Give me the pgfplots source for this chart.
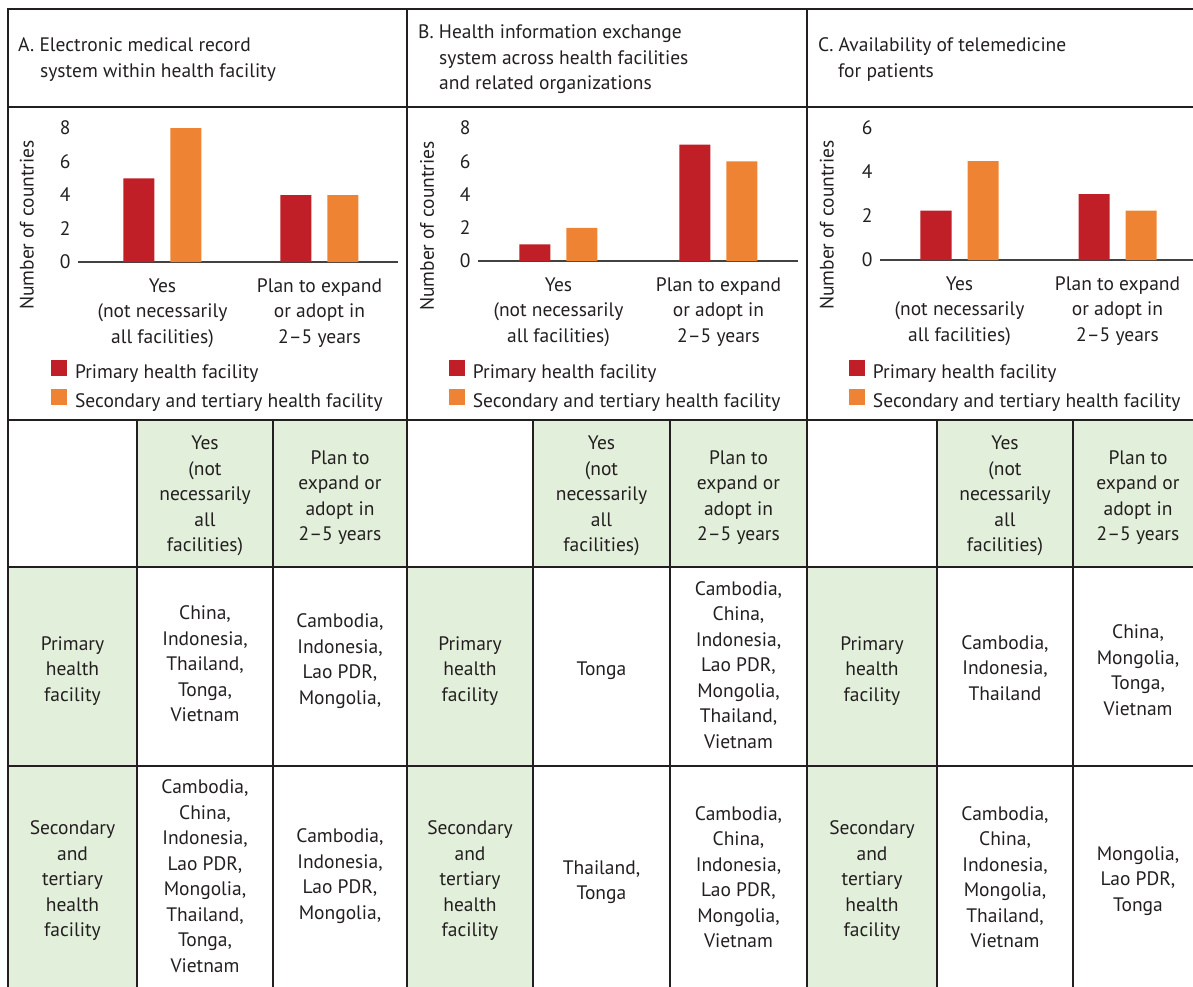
\documentclass[border=0pt]{standalone}
\usepackage{fontspec}
\setmainfont{PT Sans}
\usepackage{pgfplots}
\pgfplotsset{compat=1.18}
\definecolor{pred}{HTML}{C01F28}
\definecolor{porange}{HTML}{EE8433}
\definecolor{pgreen}{HTML}{E2EFDA}
\definecolor{ink}{HTML}{231F20}
\newcommand\fs{\fontsize{19.5}{25.5}\selectfont}
\pgfplotsset{
 panel/.style={
  scale only axis, width=320pt,
  ybar=16pt, bar width=31pt,
  ymin=0,
  axis x line=bottom, axis y line=left,
  x axis line style={-, draw=ink!85, line width=1.4pt},
  y axis line style={draw=none},
  major tick length=0pt, tick style={draw=none},
  xtick={0,1},
  xticklabels={{Yes\\(not necessarily\\all facilities)},{Plan to expand\\or adopt in\\2–5 years}},
  xticklabel style={align=center, font=\fs, text=ink, yshift=-13pt},
  yticklabel style={font=\fs, text=ink, xshift=-4pt},
  /pgf/number format/assume math mode=true,
  ylabel={Number of countries},
  ylabel style={font=\fs, text=ink, anchor=center},
  legend style={draw=none, fill=none, inner sep=0pt, outer sep=0pt, anchor=north west, column sep=8pt, row sep=5pt, font=\fs, text=ink, nodes={inner sep=0pt, text height=14pt, text depth=5pt}},
  legend cell align=left,
  legend image code/.code={\fill[##1] (0pt,-2pt) rectangle (16pt,14pt);},
 }
}
\begin{document}
\begin{tikzpicture}
\useasboundingbox (0pt,0pt) rectangle (1193pt,-987pt);
\begin{scope}[x=1pt,y=-1pt]
% green fills
\fill[pgreen] (137,420) rectangle (407,567);
\fill[pgreen] (533,420) rectangle (807,567);
\fill[pgreen] (937,420) rectangle (1200,567);
\fill[pgreen] (8,567) rectangle (137,995);
\fill[pgreen] (407,567) rectangle (533,995);
\fill[pgreen] (807,567) rectangle (937,995);
% titles
\begin{scope}[every node/.style={font=\fs, text=ink, inner sep=0pt, anchor=base west}]
\node at (18,52) {A. Electronic medical record};
\node at (40,77.5) {system within health facility};
\node at (418,39) {B. Health information exchange};
\node at (439,64.5) {system across health facilities};
\node at (439,90) {and related organizations};
\node at (818,52) {C. Availability of telemedicine};
\node at (838,77.5) {for patients};
\end{scope}
% table text
\begin{scope}[every node/.style={font=\fs, text=ink, inner sep=0pt, align=center, anchor=center}]
% headers
\node at (205,496) {Yes\\(not\\necessarily\\all\\facilities)};
\node at (340,497.5) {Plan to\\expand or\\adopt in\\2–5 years};
\node at (601.5,496) {Yes\\(not\\necessarily\\all\\facilities)};
\node at (738.5,497.5) {Plan to\\expand or\\adopt in\\2–5 years};
\node at (1005,496) {Yes\\(not\\necessarily\\all\\facilities)};
\node at (1138,497.5) {Plan to\\expand or\\adopt in\\2–5 years};
% row labels
\node at (72.5,671) {Primary\\health\\facility};
\node at (470,671) {Primary\\health\\facility};
\node at (872,671) {Primary\\health\\facility};
\node at (72.5,881) {Secondary\\and\\tertiary\\health\\facility};
\node at (470,881) {Secondary\\and\\tertiary\\health\\facility};
\node at (872,881) {Secondary\\and\\tertiary\\health\\facility};
% A cells
\node at (205,664) {China,\\Indonesia,\\Thailand,\\Tonga,\\Vietnam};
\node at (340,661) {Cambodia,\\Indonesia,\\Lao PDR,\\Mongolia,};
\node at (205,876) {Cambodia,\\China,\\Indonesia,\\Lao PDR,\\Mongolia,\\Thailand,\\Tonga,\\Vietnam};
\node at (340,876) {Cambodia,\\Indonesia,\\Lao PDR,\\Mongolia,};
% B cells
\node at (601.5,671) {Tonga};
\node at (738.5,665) {Cambodia,\\China,\\Indonesia,\\Lao PDR,\\Mongolia,\\Thailand,\\Vietnam};
\node at (601.5,882) {Thailand,\\Tonga};
\node at (738.5,877) {Cambodia,\\China,\\Indonesia,\\Lao PDR,\\Mongolia,\\Vietnam};
% C cells
\node at (1005,668) {Cambodia,\\Indonesia,\\Thailand};
\node at (1138,670) {China,\\Mongolia,\\Tonga,\\Vietnam};
\node at (1005,877) {Cambodia,\\China,\\Indonesia,\\Mongolia,\\Thailand,\\Vietnam};
\node at (1138,881) {Mongolia,\\Lao PDR,\\Tonga};
\end{scope}
% lines
\begin{scope}[draw=ink, line width=2.3pt]
\draw (8,995) -- (8,9) -- (1200,9);
\draw (8,107) -- (1200,107);
\draw (8,420) -- (1200,420);
\draw (8,567) -- (1200,567);
\draw (8,766) -- (1200,766);
\draw (407,9) -- (407,995);
\draw (807,9) -- (807,995);
\foreach \x in {137,273,533,670,937,1073} \draw (\x,420) -- (\x,995);
\end{scope}
\end{scope}
% panel A
\begin{axis}[panel, at={(78pt,-262pt)}, anchor=south west, height=134pt,
  ymax=8, ytick={0,2,4,6,8}, xmin=-0.538, xmax=1.5,
  ylabel style={at={(axis description cs:-0.16,0.276)}},
  legend style={at={(axis description cs:-0.084,-0.735)}}]
\addplot[fill=pred, draw=none] coordinates {(0,5) (1,4)};
\addplot[fill=porange, draw=none] coordinates {(0,8) (1,4)};
\legend{Primary health facility, Secondary and tertiary health facility}
\end{axis}
% panel B
\begin{axis}[panel, at={(478pt,-261pt)}, anchor=south west, height=133pt,
  ymax=8, ytick={0,2,4,6,8}, xmin=-0.503, xmax=1.497,
  ylabel style={at={(axis description cs:-0.159,0.263)}},
  legend style={at={(axis description cs:-0.091,-0.745)}}]
\addplot[fill=pred, draw=none] coordinates {(0,1) (1,7)};
\addplot[fill=porange, draw=none] coordinates {(0,2) (1,6)};
\legend{Primary health facility, Secondary and tertiary health facility}
\end{axis}
% panel C
\begin{axis}[panel, at={(880pt,-260pt)}, anchor=south west, height=132pt,
  ymax=6, ytick={0,2,4,6}, xmin=-0.503, xmax=1.522,
  ylabel style={at={(axis description cs:-0.166,0.265)}},
  legend style={at={(axis description cs:-0.097,-0.758)}}]
\addplot[fill=pred, draw=none] coordinates {(0,2.25) (1,3)};
\addplot[fill=porange, draw=none] coordinates {(0,4.5) (1,2.25)};
\legend{Primary health facility, Secondary and tertiary health facility}
\end{axis}
\end{tikzpicture}
\end{document}
